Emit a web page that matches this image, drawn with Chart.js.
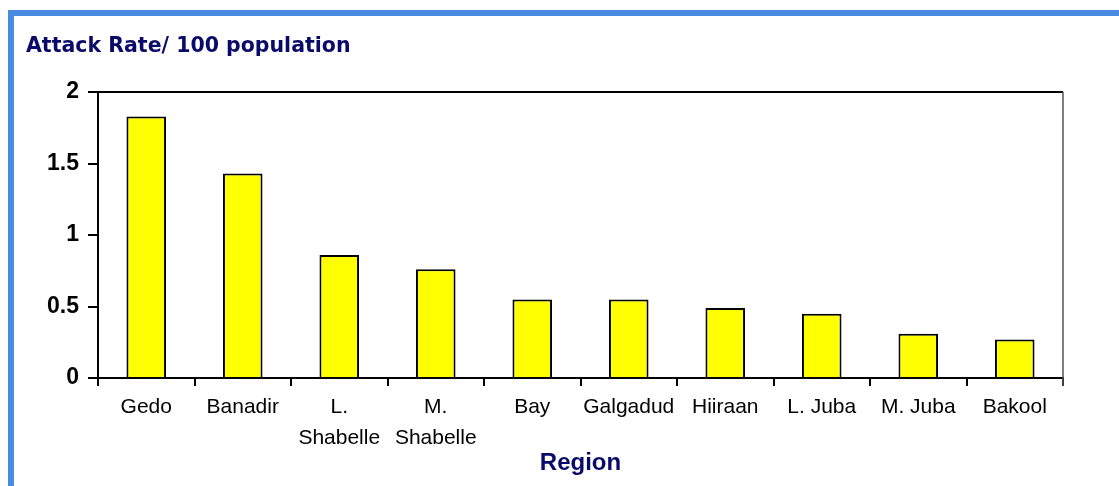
<!DOCTYPE html>
<html>
<head>
<meta charset="utf-8">
<script src="https://cdn.jsdelivr.net/npm/chart.js@4"></script>
<style>
  html, body { margin: 0; padding: 0; background: #fff; }
  #frame {
    position: absolute; left: 8px; top: 10px;
    width: 1111px; height: 476px;
    border-left: 6px solid #4a8bdf; border-top: 6px solid #4a8bdf;
    box-sizing: border-box;
  }
  #myChart { display: block; }
</style>
</head>
<body>
<div id="frame">
  <canvas id="myChart" width="1105" height="470"></canvas>
</div>
<script>
// data
const regions = ['Gedo', 'Banadir', ['L.', 'Shabelle'], ['M.', 'Shabelle'], 'Bay',
                 'Galgadud', 'Hiiraan', 'L. Juba', 'M. Juba', 'Bakool'];
const attack_rate = [1.83, 1.43, 0.86, 0.76, 0.55, 0.55, 0.49, 0.45, 0.31, 0.27];
const y_ticks = [0, 0.5, 1, 1.5, 2];

const navy = '#0a0a6b';
const arial = "'Liberation Sans', Arial, sans-serif";

// top + right frame lines of the plot area
const frame_plugin = {
    id: 'frame_plugin',
    afterDraw(chart) {
        const {ctx, chartArea: a} = chart;
        ctx.save();
        ctx.strokeStyle = '#000';
        ctx.lineWidth = 2;
        ctx.beginPath();
        ctx.moveTo(a.left, a.top);
        ctx.lineTo(a.right, a.top);
        ctx.stroke();
        ctx.strokeStyle = '#555';
        ctx.lineWidth = 1.5;
        ctx.beginPath();
        ctx.moveTo(a.right, a.top);
        ctx.lineTo(a.right, a.bottom + 8);
        ctx.stroke();
        ctx.restore();
    }
};

const config = {
    type: 'bar',
    data: {
        labels: regions,
        datasets: [{
            label: 'Attack Rate',
            data: attack_rate,
            backgroundColor: '#ffff00',
            borderColor: '#000',
            borderWidth: 2,
            borderSkipped: 'bottom',
            barPercentage: 0.41,
            categoryPercentage: 1.0
        }]
    },
    options: {
        responsive: false,
        animation: false,
        layout: { padding: { left: 12, right: 56, top: 0, bottom: 0 } },
        plugins: {
            legend: { display: false },
            tooltip: { enabled: false },
            title: {
                display: true,
                text: 'Attack Rate/ 100 population',
                align: 'start',
                color: navy,
                font: { family: "'DejaVu Sans', Verdana, sans-serif", size: 20.5, weight: 'bold', lineHeight: 1.2 },
                padding: { top: 18.5, bottom: 33 }
            }
        },
        scales: {
            x: {
                grid: { display: true, drawOnChartArea: false, drawTicks: true, tickLength: 8, color: '#000', lineWidth: 2 },
                border: { display: true, color: '#000', width: 2 },
                ticks: {
                    color: '#000',
                    font: { family: arial, size: 21, lineHeight: 1.5 },
                    padding: 5,
                    maxRotation: 0,
                    autoSkip: false
                },
                title: {
                    display: true,
                    text: 'Region',
                    color: navy,
                    font: { family: arial, size: 24, weight: 'bold', lineHeight: 1.2 },
                    padding: { top: 0, bottom: 8 }
                },
                afterFit(scale) { scale.height = 108; }
            },
            y: {
                min: 0,
                max: 2,
                afterBuildTicks(scale) {
                    scale.ticks = y_ticks.map(v => ({ value: v }));
                },
                grid: { display: true, drawOnChartArea: false, drawTicks: true, tickLength: 10, color: '#000', lineWidth: 2 },
                border: { display: true, color: '#000', width: 2 },
                ticks: {
                    color: '#000',
                    font: { family: arial, size: 23, weight: 'bold' },
                    padding: 9,
                    callback: v => String(v)
                },
                afterFit(scale) { scale.width = 72; }
            }
        }
    },
    plugins: [frame_plugin]
};

const myChart = new Chart(document.getElementById('myChart'), config);
</script>
</body>
</html>
